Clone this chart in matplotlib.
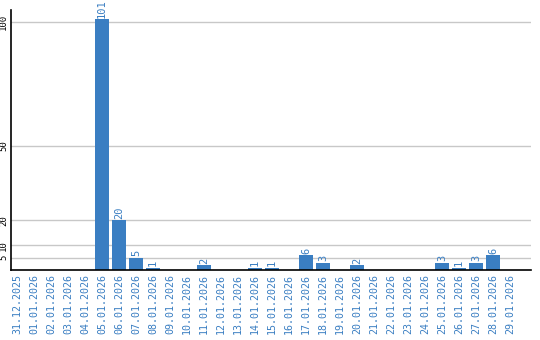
import matplotlib.pyplot as plt

# dates and counts
dates = ['31.12.2025', '01.01.2026', '02.01.2026', '03.01.2026', '04.01.2026',
         '05.01.2026', '06.01.2026', '07.01.2026', '08.01.2026', '09.01.2026',
         '10.01.2026', '11.01.2026', '12.01.2026', '13.01.2026', '14.01.2026',
         '15.01.2026', '16.01.2026', '17.01.2026', '18.01.2026', '19.01.2026',
         '20.01.2026', '21.01.2026', '22.01.2026', '23.01.2026', '24.01.2026',
         '25.01.2026', '26.01.2026', '27.01.2026', '28.01.2026', '29.01.2026']
counts = [0, 0, 0, 0, 0, 101, 20, 5, 1, 0, 0, 2, 0, 0, 1, 1, 0, 6, 3, 0,
          2, 0, 0, 0, 0, 3, 1, 3, 6, 0]
yticks = [5, 10, 20, 50, 100]

blue = '#3a7ec2'
mono = 'DejaVu Sans Mono'

fig = plt.figure(figsize=(5.4, 3.4), dpi=100)
ax = fig.add_axes([11/540, 1 - 270/340, 520/540, 260/340])

x = list(range(len(dates)))
ax.bar(x, counts, width=0.82, color=blue, zorder=2)

for i, v in enumerate(counts):
    if v > 0:
        ax.text(i, v + 0.6, str(v), rotation=90, ha='center', va='bottom',
                color=blue, fontsize=7.5, family=mono)

ax.set_xlim(-0.353, 30.24)
ax.set_ylim(0, 104.8)
ax.set_yticks(yticks)
ax.set_yticklabels([str(t) for t in yticks], rotation=90, va='center',
                   fontsize=6.5, family=mono)
ax.set_xticks(x)
ax.set_xticklabels(dates, rotation=90, fontsize=7.2, family=mono, color=blue)
ax.tick_params(axis='both', length=0)
ax.tick_params(axis='y', pad=2)
ax.tick_params(axis='x', pad=3)
ax.grid(axis='y', color='#c8c8c8', linewidth=1, zorder=0)
ax.set_axisbelow(True)

for s in ['top', 'right']:
    ax.spines[s].set_visible(False)
ax.spines['left'].set_linewidth(1.2)
ax.spines['bottom'].set_linewidth(1.2)

fig.savefig('out.png', dpi=100)
